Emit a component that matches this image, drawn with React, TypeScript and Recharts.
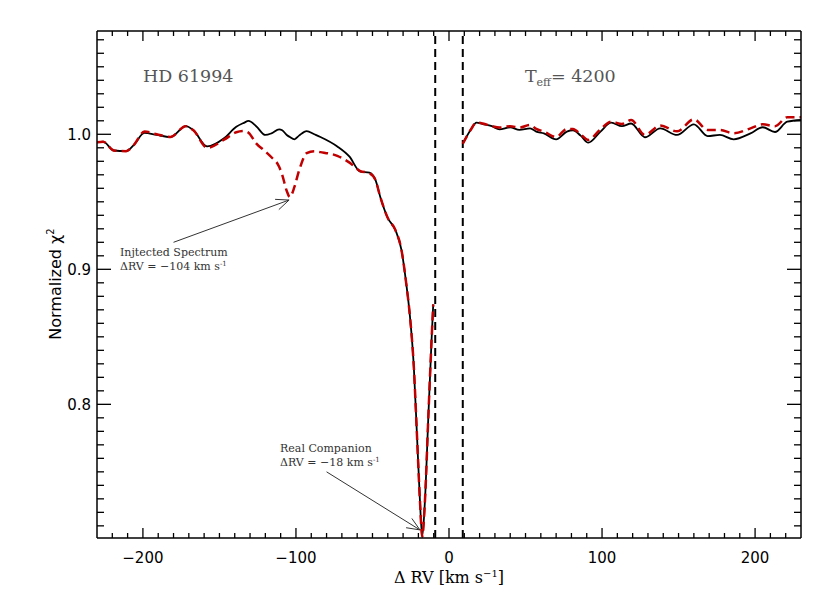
import React from "react";
import {
  LineChart,
  Line,
  XAxis,
  YAxis,
  ReferenceLine,
  ReferenceDot,
} from "recharts";

// Δ RV grid (km/s) left of the masked window
const leftRV = [
  -230, -226, -219, -211, -206, -199, -191, -182, -172, -167, -158, -147, -139,
  -134, -131, -126, -120, -116, -111, -109, -106, -104, -101, -98, -93, -88,
  -84, -73, -65, -58, -52, -48, -45, -40, -35, -31, -28, -25.5, -23, -21, -19,
  -17.5, -15.7, -13.5, -11.3, -10.3,
];
const leftChi = [
  0.994, 0.9945, 0.988, 0.9875, 0.992, 1.001, 0.9995, 0.998, 1.006, 1.003,
  0.991, 0.997, 1.0056, 1.0085, 1.0099, 1.006, 0.9995, 1.0007, 1.0037, 1.003,
  0.9995, 0.998, 0.9963, 0.999, 1.0024, 1.0, 0.998, 0.991, 0.9834, 0.9723,
  0.9716, 0.966, 0.954, 0.938, 0.929, 0.914, 0.89, 0.865, 0.828, 0.779, 0.729,
  0.702, 0.729, 0.791, 0.85, 0.874,
];
const leftChiInjected = [
  0.994, 0.9945, 0.988, 0.9875, 0.992, 1.002, 1.0, 0.998, 1.006, 1.003, 0.99,
  0.996, 1.0015, 1.0024, 1.0012, 0.9933, 0.9873, 0.983, 0.976, 0.97, 0.958,
  0.9535, 0.961, 0.973, 0.986, 0.9875, 0.9868, 0.984, 0.979, 0.9728, 0.9712,
  0.966, 0.954, 0.938, 0.929, 0.914, 0.89, 0.865, 0.828, 0.779, 0.729, 0.702,
  0.729, 0.791, 0.85, 0.874,
];

// right of the masked window
const rightRV = [
  9, 14, 18, 22, 28, 33, 40, 46, 53, 57, 62, 70, 77, 81, 86, 91, 99, 106, 113,
  119, 128, 138, 149, 160, 169, 177, 186, 197, 205, 213, 221, 230,
];
const rightChi = [
  0.993, 1.003, 1.0086, 1.0076, 1.006, 1.0037, 1.0052, 1.0032, 1.0044, 1.002,
  1.0007, 0.9963, 1.002, 1.003, 0.999, 0.9938, 1.002, 1.0086, 1.006, 1.008,
  0.9978, 1.0044, 0.9995, 1.0074, 0.9987, 0.9995, 0.9963, 1.0007, 1.0052,
  1.0017, 1.0093, 1.0106,
];
const rightChiInjected = [
  0.993, 1.003, 1.0086, 1.008, 1.006, 1.005, 1.006, 1.005, 1.0069, 1.004,
  1.002, 0.998, 1.004, 1.004, 1.0, 0.9958, 1.0037, 1.0093, 1.0076, 1.0106,
  0.9995, 1.0065, 1.0022, 1.0111, 1.0032, 1.0032, 1.0007, 1.0044, 1.0074,
  1.006, 1.0126, 1.0126,
];

const maskEdges = [-9, 9];
const majorX = [-200, -100, 0, 100, 200];
const majorY = [0.8, 0.9, 1.0];

const injectedArrow = [
  { x: -180, y: 0.92 },
  { x: -104.5, y: 0.9513 },
];
const companionArrow = [
  { x: -80, y: 0.75 },
  { x: -19, y: 0.707 },
];

const data = [
  ...leftRV.map((rv, i) => ({ rv, chi: leftChi[i], inj: leftChiInjected[i] })),
  { rv: 0, chi: null, inj: null },
  ...rightRV.map((rv, i) => ({ rv, chi: rightChi[i], inj: rightChiInjected[i] })),
];

const minorX = Array.from({ length: 45 }, (_, i) => -220 + i * 10);
const minorY = Array.from({ length: 37 }, (_, i) => (71 + i) / 100);

const SANS = "DejaVu Sans";
const SERIF = "DejaVu Serif";
const Y_DOMAIN: [number, number] = [0.701, 1.0765];

const fmtX = (v: number) => (v < 0 ? `\u2212${-v}` : `${v}`);
const isMajorY = (v: number) => majorY.some((m) => Math.abs(m - v) < 1e-6);

const xTick = (dir: number, labels: boolean) => (p: any) => {
  const v = p.payload.value;
  const major = majorX.includes(v);
  const len = major ? 10 : 5;
  return (
    <g>
      <line x1={p.x} x2={p.x} y1={p.y} y2={p.y - dir * len} stroke="#000" strokeWidth={1.3} />
      {labels && major && (
        <text x={p.x} y={p.y + 25} textAnchor="middle" fontFamily={SANS} fontSize={15} fill="#000">
          {fmtX(v)}
        </text>
      )}
    </g>
  );
};

const yTick = (dir: number, labels: boolean) => (p: any) => {
  const v = p.payload.value;
  const major = isMajorY(v);
  const len = major ? 14 : 7;
  return (
    <g>
      <line x1={p.x} x2={p.x + dir * len} y1={p.y} y2={p.y} stroke="#000" strokeWidth={1.3} />
      {labels && major && (
        <text x={p.x - 6} y={p.y + 5.5} textAnchor="end" fontFamily={SANS} fontSize={15} fill="#000">
          {v.toFixed(1)}
        </text>
      )}
    </g>
  );
};

const Arrow = (p: any) => {
  const { x1, y1, x2, y2 } = p;
  const a = Math.atan2(y2 - y1, x2 - x1);
  const h = 14;
  const w = 0.4;
  const pts = `${x2 - h * Math.cos(a - w)},${y2 - h * Math.sin(a - w)} ${x2},${y2} ${
    x2 - h * Math.cos(a + w)
  },${y2 - h * Math.sin(a + w)}`;
  return (
    <g stroke="#333" strokeWidth={1} fill="none">
      <line x1={x1} y1={y1} x2={x2} y2={y2} />
      <polyline points={pts} />
    </g>
  );
};

const note = (line1: string, rv: string) => (p: any) => (
  <text x={p.cx} y={p.cy} fontFamily={SERIF} fontSize={11} fill="#333">
    <tspan x={p.cx}>{line1}</tspan>
    <tspan x={p.cx} dy={14}>
      {`\u0394RV = \u2212${rv} km s`}
    </tspan>
    <tspan dy={-4} fontSize={7}>
      -1
    </tspan>
  </text>
);

const axisLine = { stroke: "#000", strokeWidth: 1.5 };

export default function App() {
  return (
    <div style={{ position: "absolute", left: 0, top: 0, background: "#fff" }}>
      <LineChart
        width={830}
        height={600}
        data={data}
        margin={{ top: 1, right: 9, bottom: 32, left: 37 }}
      >
        <XAxis
          dataKey="rv"
          type="number"
          domain={[-230, 230]}
          allowDataOverflow
          ticks={minorX}
          interval={0}
          height={30}
          tickSize={0}
          tickMargin={0}
          tick={xTick(1, true)}
          axisLine={axisLine}
          tickLine={false}
        />
        <XAxis
          xAxisId="top"
          orientation="top"
          dataKey="rv"
          type="number"
          domain={[-230, 230]}
          allowDataOverflow
          ticks={minorX}
          interval={0}
          height={30}
          tickSize={0}
          tickMargin={0}
          tick={xTick(-1, false)}
          axisLine={axisLine}
          tickLine={false}
        />
        <YAxis
          type="number"
          domain={Y_DOMAIN}
          allowDataOverflow
          ticks={minorY}
          interval={0}
          width={60}
          tickSize={0}
          tickMargin={0}
          tick={yTick(1, true)}
          axisLine={axisLine}
          tickLine={false}
        />
        <YAxis
          yAxisId="r"
          orientation="right"
          type="number"
          domain={Y_DOMAIN}
          allowDataOverflow
          ticks={minorY}
          interval={0}
          width={20}
          tickSize={0}
          tickMargin={0}
          tick={yTick(-1, false)}
          axisLine={axisLine}
          tickLine={false}
        />
        {maskEdges.map((x) => (
          <ReferenceLine key={x} x={x} stroke="#000" strokeWidth={2} strokeDasharray="8 5" />
        ))}
        <Line
          dataKey="chi"
          type="monotone"
          stroke="#000"
          strokeWidth={1.8}
          dot={false}
          connectNulls={false}
          isAnimationActive={false}
        />
        <Line
          dataKey="inj"
          type="monotone"
          stroke="#c00000"
          strokeWidth={2.5}
          strokeDasharray="9 5"
          dot={false}
          connectNulls={false}
          isAnimationActive={false}
        />
        <ReferenceLine segment={injectedArrow} shape={Arrow} ifOverflow="visible" />
        <ReferenceLine segment={companionArrow} shape={Arrow} ifOverflow="visible" />
        <ReferenceDot x={-215} y={0.9099} r={0} shape={note("Injtected Spectrum", "104")} />
        <ReferenceDot x={-110.4} y={0.7649} r={0} shape={note("Real Companion", "18")} />
        <ReferenceDot
          x={-200}
          y={1.039}
          r={0}
          shape={(p: any) => (
            <text x={p.cx} y={p.cy} fontFamily={SERIF} fontSize={17.5} fill="#555">
              HD 61994
            </text>
          )}
        />
        <ReferenceDot
          x={49.6}
          y={1.039}
          r={0}
          shape={(p: any) => (
            <text x={p.cx} y={p.cy} fontFamily={SERIF} fontSize={17.5} fill="#555">
              T
              <tspan dy={4} fontSize={11}>
                eff
              </tspan>
              <tspan dy={-4}>= 4200</tspan>
            </text>
          )}
        />
        <text x={449} y={583} textAnchor="middle" fontFamily={SERIF} fontSize={16} fill="#000">
          {"\u0394 RV [km s"}
          <tspan dy={-6} fontSize={10}>
            {"\u22121"}
          </tspan>
          <tspan dy={6}>]</tspan>
        </text>
        <text
          transform="translate(61,284) rotate(-90)"
          textAnchor="middle"
          fontFamily={SANS}
          fontSize={16}
          fill="#000"
        >
          {"Normalized \u03c7"}
          <tspan dy={-7} fontSize={10}>
            2
          </tspan>
        </text>
      </LineChart>
    </div>
  );
}
